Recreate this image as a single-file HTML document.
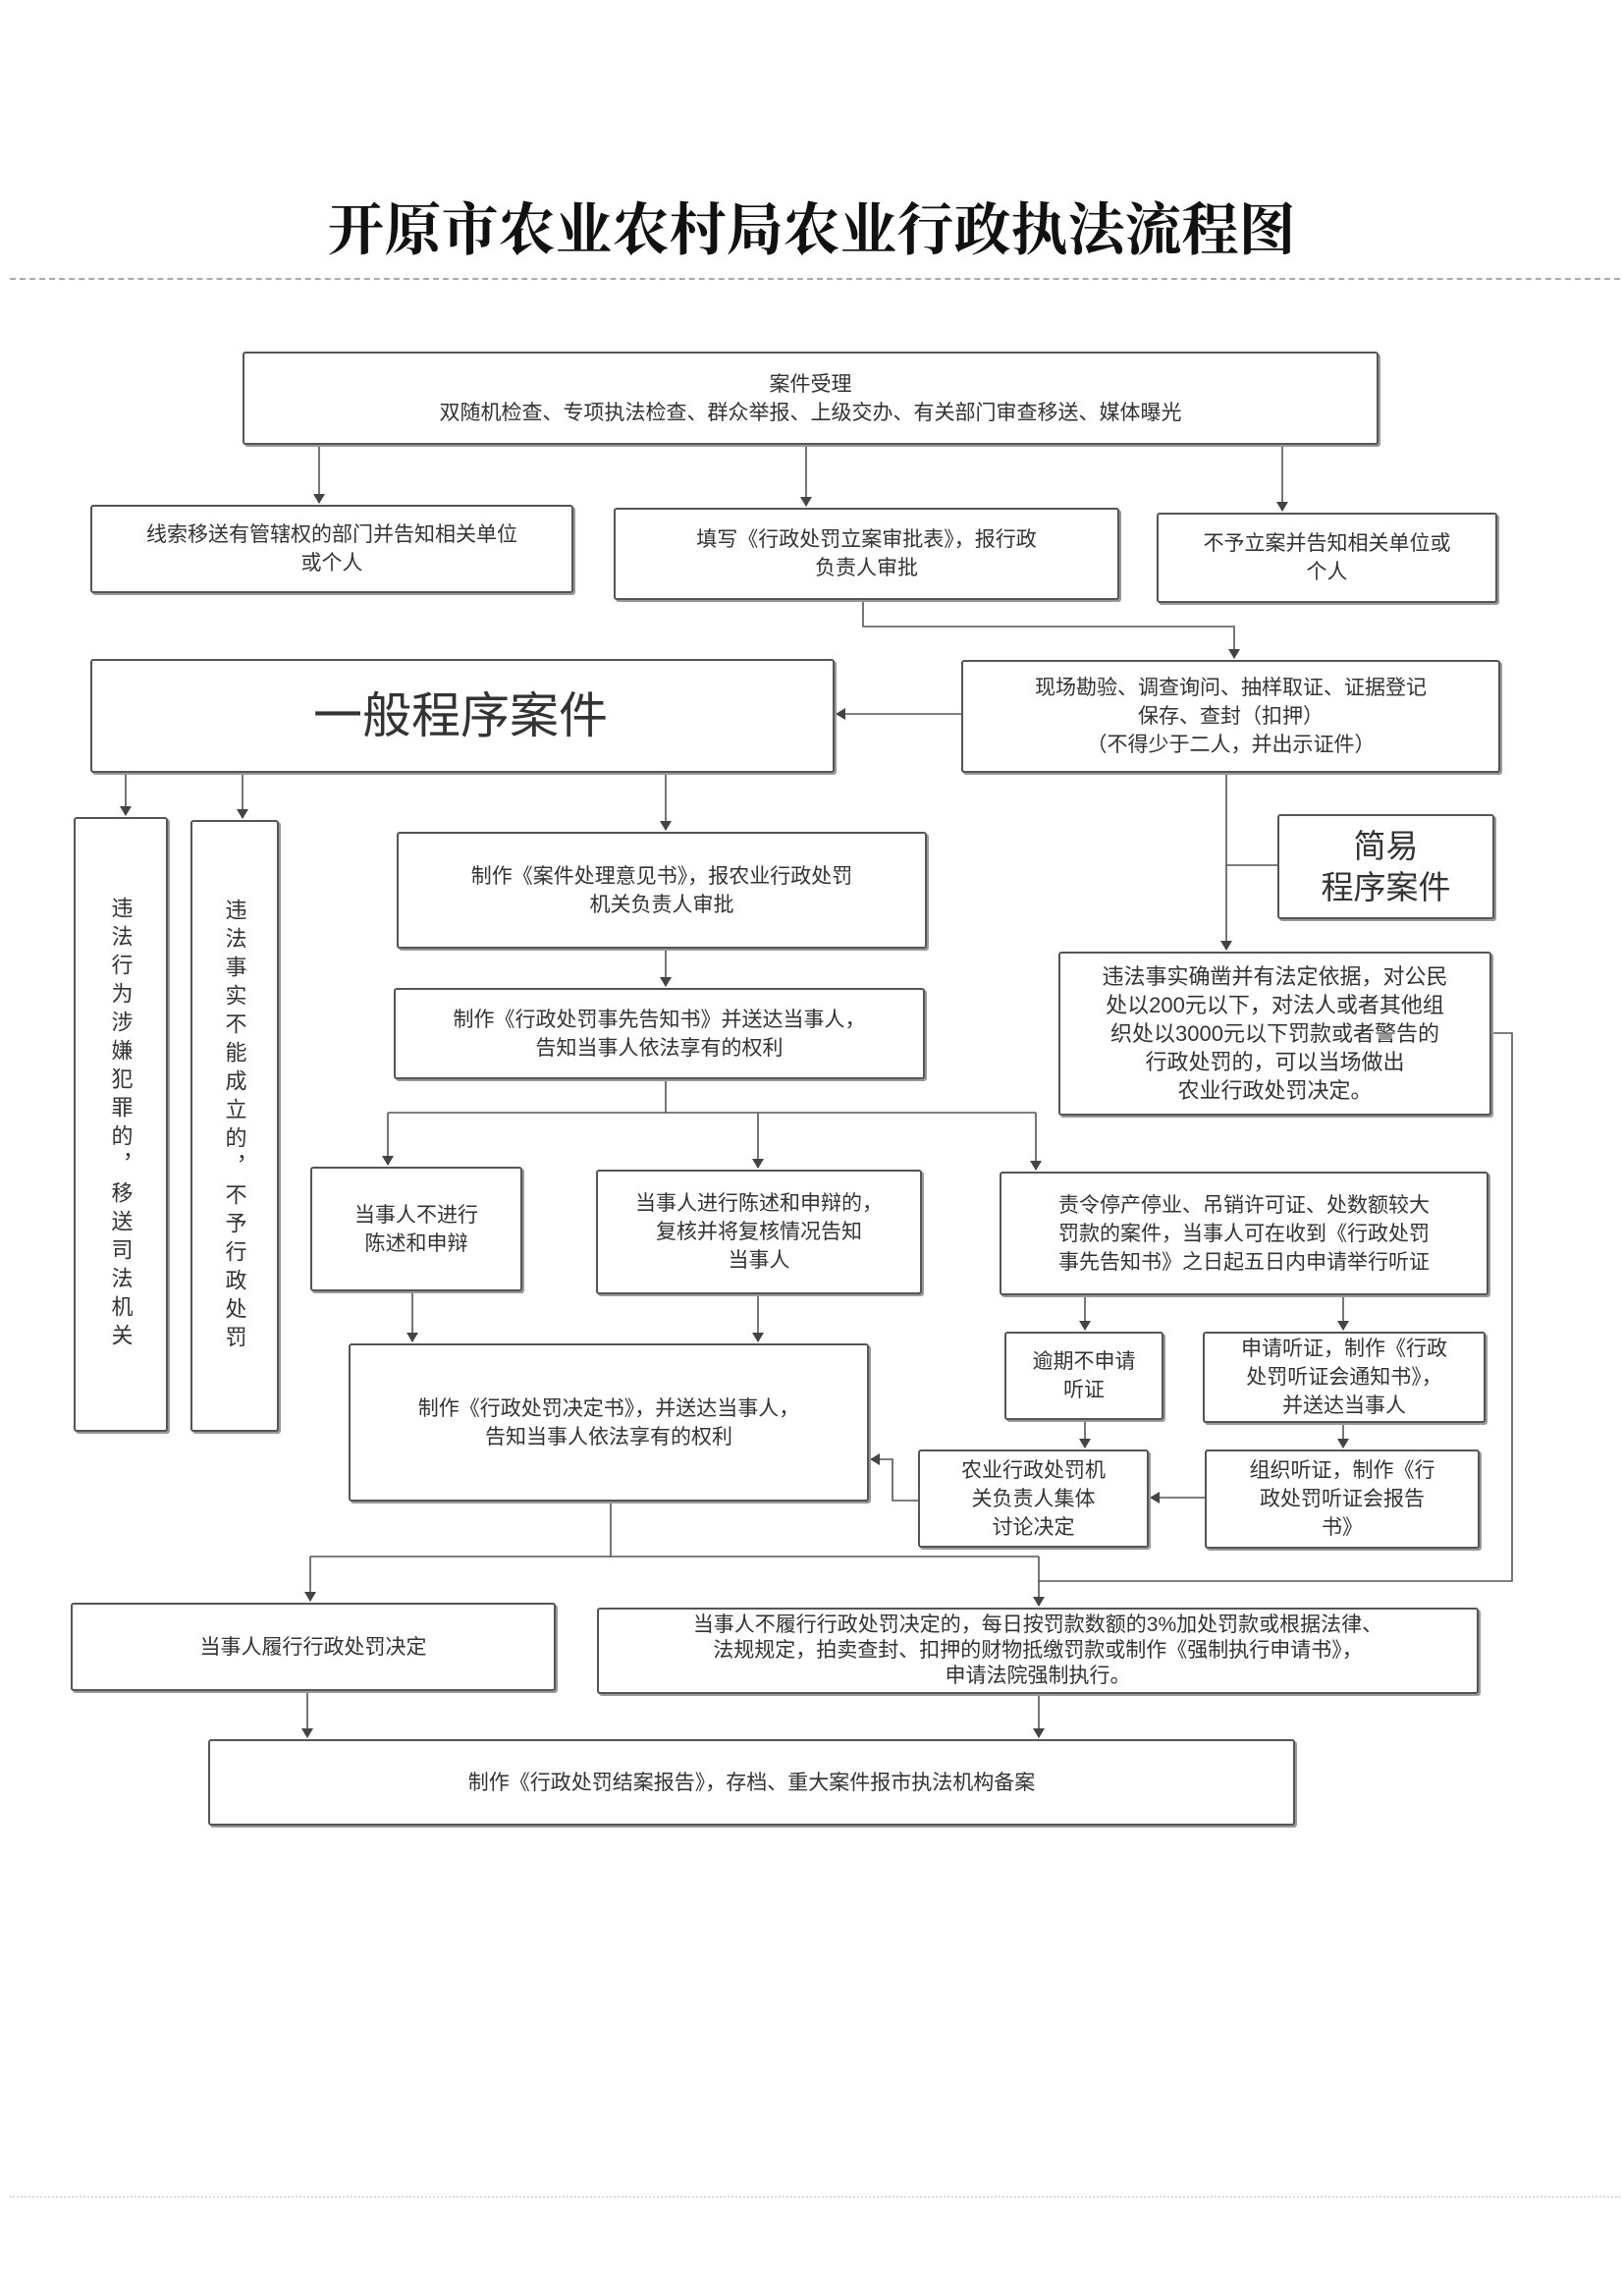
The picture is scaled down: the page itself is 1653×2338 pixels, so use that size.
<!DOCTYPE html>
<html><head><meta charset="utf-8">
<style>
html,body{margin:0;padding:0;background:#fff;}
body{width:1653px;height:2338px;position:relative;overflow:hidden;font-family:"Liberation Sans","Noto Sans CJK SC",sans-serif;color:#333;}
.b{position:absolute;border:2px solid #555;box-shadow:2px 2px 0 #999;border-radius:3px;display:flex;align-items:center;justify-content:center;text-align:center;font-size:21px;line-height:29px;box-sizing:border-box;background:#fff;}
.v{writing-mode:vertical-rl;letter-spacing:7px;font-size:22px;}
svg{position:absolute;left:0;top:0;}
</style></head><body>
<div style="position:absolute;left:0;width:1653px;top:200px;text-align:center;font-size:58px;line-height:70px;color:#111;font-weight:bold;font-family:'Liberation Serif','Noto Serif CJK SC',serif;">开原市农业农村局农业行政执法流程图</div>
<div style="position:absolute;left:10px;width:1640px;top:283px;border-top:2px dashed #aaa;"></div>
<div style="position:absolute;left:10px;width:1640px;top:2236px;border-top:2px dotted #ddd;"></div>

<svg width="1653" height="2338">
<defs><marker id="a" markerWidth="10" markerHeight="12" refX="9" refY="6" orient="auto" markerUnits="userSpaceOnUse"><path d="M0,0 L10,6 L0,12 z" fill="#444"/></marker></defs>
<g stroke="#555" stroke-width="1.6" fill="none">
<path d="M325 453 V512" marker-end="url(#a)"/>
<path d="M821 453 V515" marker-end="url(#a)"/>
<path d="M1306 453 V520" marker-end="url(#a)"/>
<path d="M879 611 V638 H1257 V670" marker-end="url(#a)"/>
<path d="M979 727 H852" marker-end="url(#a)"/>
<path d="M1249 787 V967" marker-end="url(#a)"/>
<path d="M1249 881 H1301"/>
<path d="M128 787 V830" marker-end="url(#a)"/>
<path d="M247 787 V833" marker-end="url(#a)"/>
<path d="M678 787 V845" marker-end="url(#a)"/>
<path d="M678 966 V1004" marker-end="url(#a)"/>
<path d="M678 1099 V1133 M395 1133 H1055"/>
<path d="M395 1133 V1186" marker-end="url(#a)"/>
<path d="M772 1133 V1189" marker-end="url(#a)"/>
<path d="M1055 1133 V1191" marker-end="url(#a)"/>
<path d="M420 1315 V1366" marker-end="url(#a)"/>
<path d="M772 1318 V1366" marker-end="url(#a)"/>
<path d="M1105 1319 V1354" marker-end="url(#a)"/>
<path d="M1368 1319 V1354" marker-end="url(#a)"/>
<path d="M1105 1446 V1474" marker-end="url(#a)"/>
<path d="M1368 1449 V1474" marker-end="url(#a)"/>
<path d="M1227 1525 H1172" marker-end="url(#a)"/>
<path d="M935 1528 H909 V1486 H887" marker-end="url(#a)"/>
<path d="M1519 1052 H1540 V1610 H1058"/>
<path d="M622 1529 V1585 M316 1585 H1058"/>
<path d="M316 1585 V1630" marker-end="url(#a)"/>
<path d="M1058 1585 V1635" marker-end="url(#a)"/>
<path d="M313 1722 V1769" marker-end="url(#a)"/>
<path d="M1058 1725 V1769" marker-end="url(#a)"/>
</g></svg>

<div class="b" style="left:247px;top:358px;width:1157px;height:95px;">案件受理<br>双随机检查、专项执法检查、群众举报、上级交办、有关部门审查移送、媒体曝光</div>
<div class="b" style="left:92px;top:514px;width:492px;height:90px;">线索移送有管辖权的部门并告知相关单位<br>或个人</div>
<div class="b" style="left:625px;top:517px;width:515px;height:94px;">填写《行政处罚立案审批表》，报行政<br>负责人审批</div>
<div class="b" style="left:1178px;top:522px;width:347px;height:92px;">不予立案并告知相关单位或<br>个人</div>
<div class="b" style="left:92px;top:671px;width:758px;height:116px;justify-content:flex-start;padding-left:225px;font-size:50px;line-height:60px;">一般程序案件</div>
<div class="b" style="left:979px;top:672px;width:549px;height:115px;">现场勘验、调查询问、抽样取证、证据登记<br>保存、查封（扣押）<br>（不得少于二人，并出示证件）</div>
<div class="b" style="left:1301px;top:829px;width:221px;height:107px;font-size:33px;line-height:42px;">简易<br>程序案件</div>
<div class="b" style="left:1078px;top:969px;width:441px;height:167px;font-size:22px;">违法事实确凿并有法定依据，对公民<br>处以200元以下，对法人或者其他组<br>织处以3000元以下罚款或者警告的<br>行政处罚的，可以当场做出<br>农业行政处罚决定。</div>
<div class="b v" style="left:75px;top:832px;width:96px;height:626px;">违法行为涉嫌犯罪的，移送司法机关</div>
<div class="b v" style="left:194px;top:835px;width:90px;height:623px;">违法事实不能成立的，不予行政处罚</div>
<div class="b" style="left:404px;top:847px;width:540px;height:119px;">制作《案件处理意见书》，报农业行政处罚<br>机关负责人审批</div>
<div class="b" style="left:401px;top:1006px;width:541px;height:93px;">制作《行政处罚事先告知书》并送达当事人，<br>告知当事人依法享有的权利</div>
<div class="b" style="left:316px;top:1188px;width:216px;height:127px;">当事人不进行<br>陈述和申辩</div>
<div class="b" style="left:607px;top:1191px;width:332px;height:127px;">当事人进行陈述和申辩的，<br>复核并将复核情况告知<br>当事人</div>
<div class="b" style="left:1018px;top:1193px;width:498px;height:126px;">责令停产停业、吊销许可证、处数额较大<br>罚款的案件，当事人可在收到《行政处罚<br>事先告知书》之日起五日内申请举行听证</div>
<div class="b" style="left:355px;top:1368px;width:530px;height:161px;">制作《行政处罚决定书》，并送达当事人，<br>告知当事人依法享有的权利</div>
<div class="b" style="left:1023px;top:1356px;width:162px;height:90px;">逾期不申请<br>听证</div>
<div class="b" style="left:1225px;top:1356px;width:288px;height:93px;">申请听证，制作《行政<br>处罚听证会通知书》，<br>并送达当事人</div>
<div class="b" style="left:935px;top:1476px;width:235px;height:100px;">农业行政处罚机<br>关负责人集体<br>讨论决定</div>
<div class="b" style="left:1227px;top:1476px;width:280px;height:101px;">组织听证，制作《行<br>政处罚听证会报告<br>书》</div>
<div class="b" style="left:72px;top:1632px;width:494px;height:90px;">当事人履行行政处罚决定</div>
<div class="b" style="left:608px;top:1637px;width:898px;height:88px;line-height:26px;">当事人不履行行政处罚决定的，每日按罚款数额的3%加处罚款或根据法律、<br>法规规定，拍卖查封、扣押的财物抵缴罚款或制作《强制执行申请书》，<br>申请法院强制执行。</div>
<div class="b" style="left:212px;top:1771px;width:1107px;height:88px;">制作《行政处罚结案报告》，存档、重大案件报市执法机构备案</div>
</body></html>
